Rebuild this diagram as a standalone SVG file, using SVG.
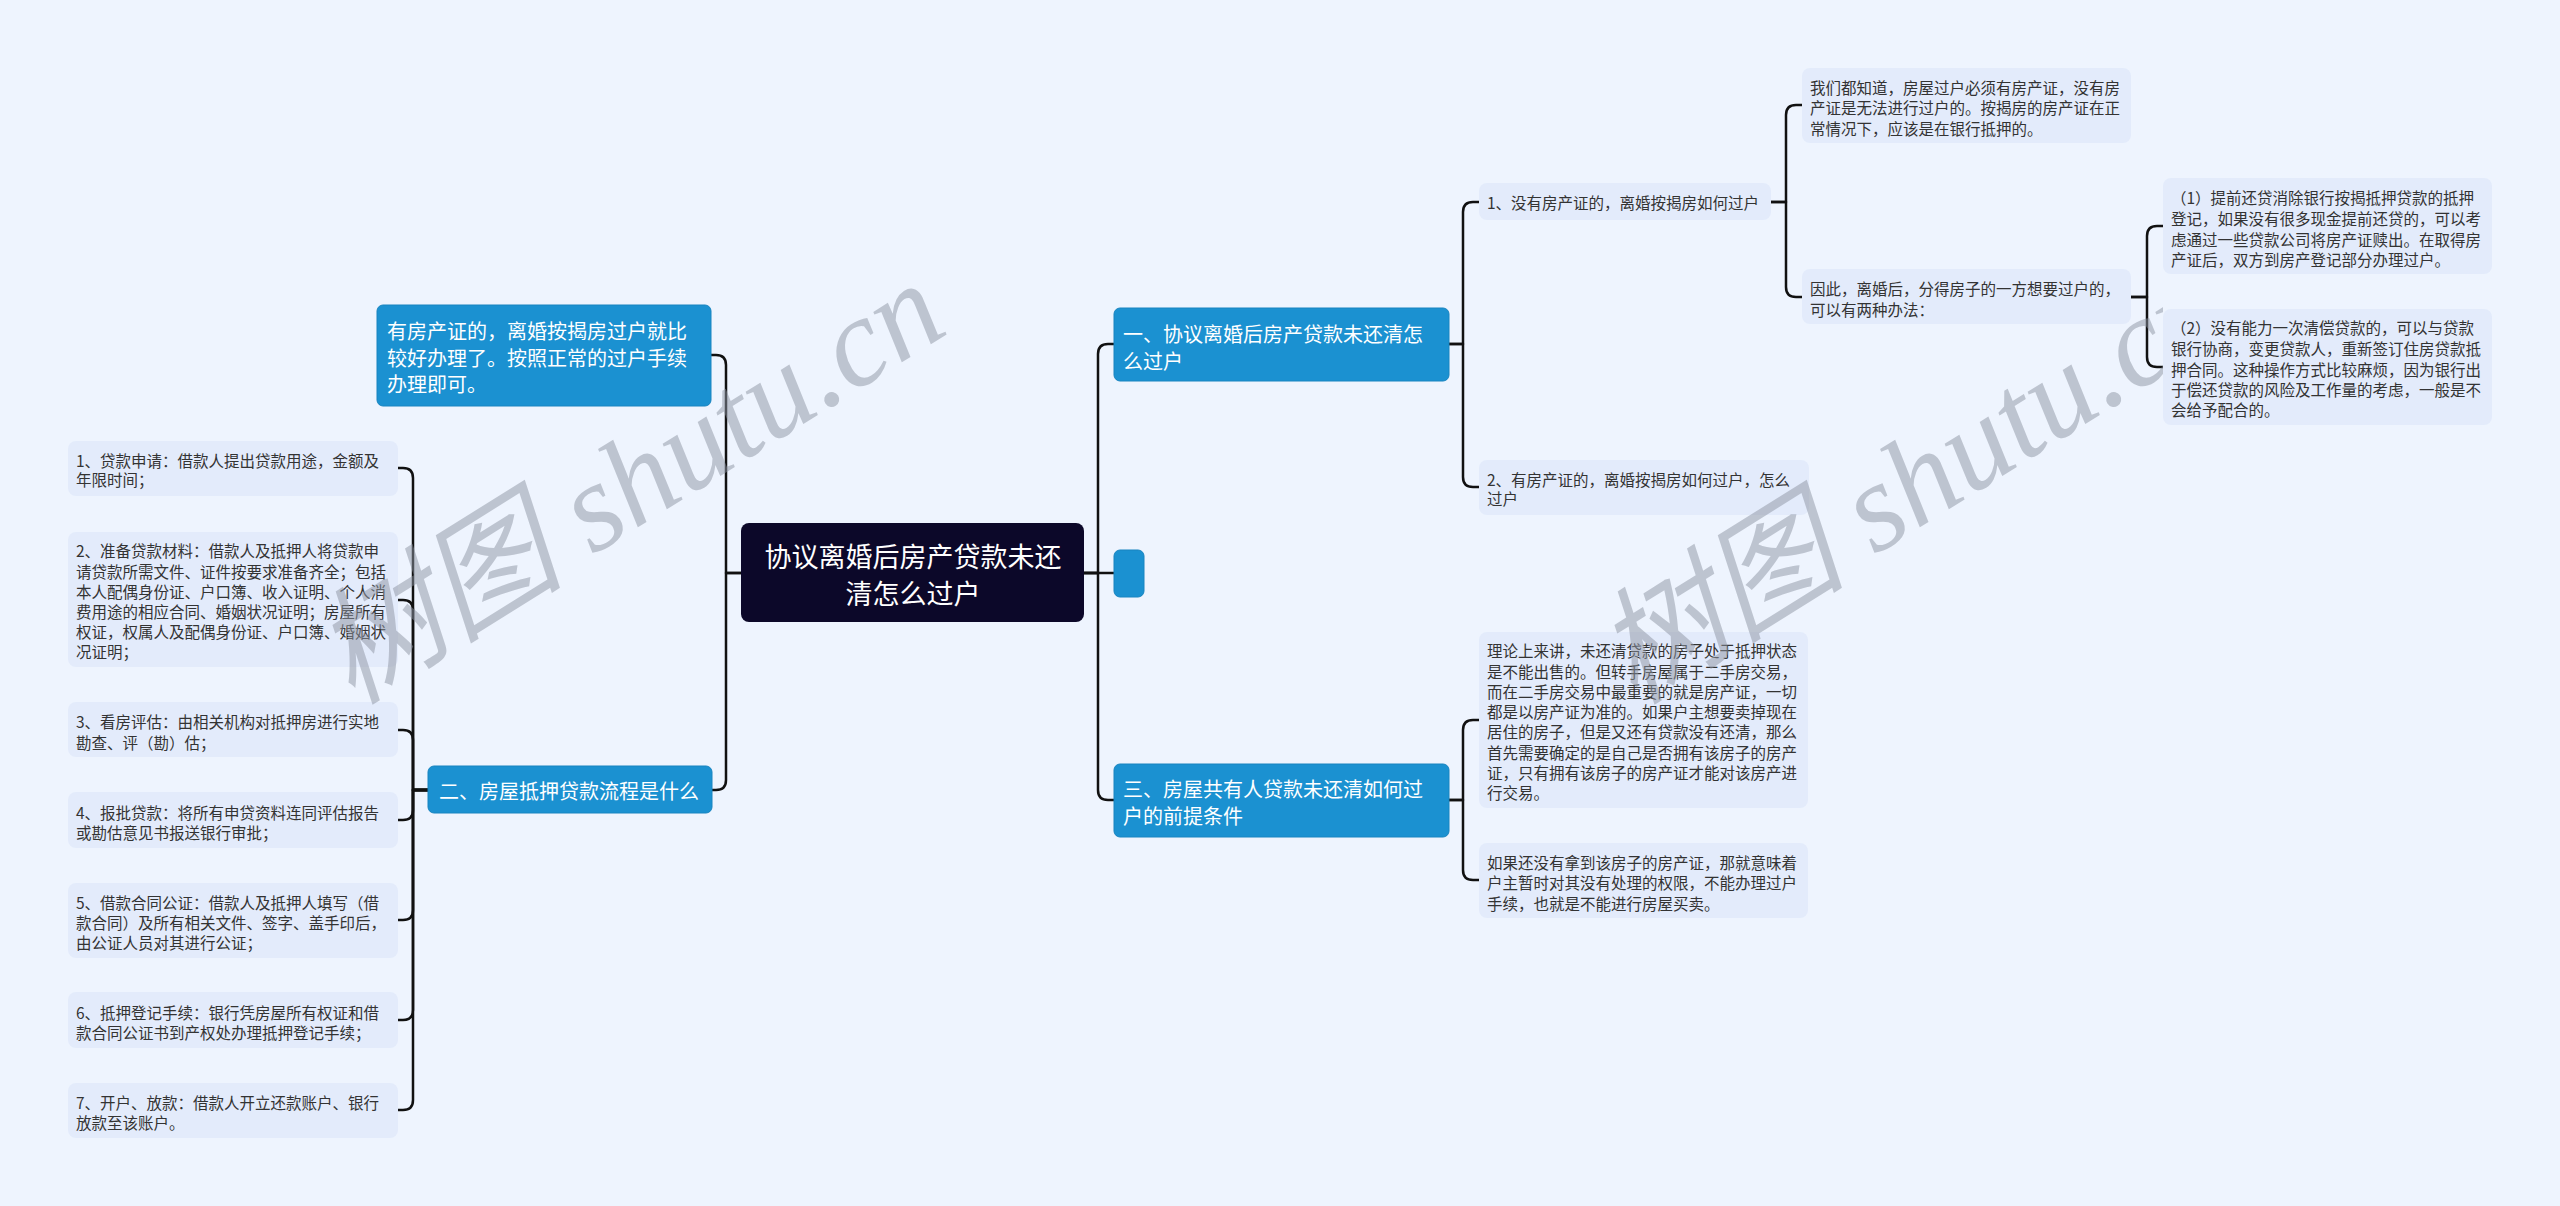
<svg xmlns="http://www.w3.org/2000/svg" width="2560" height="1206" viewBox="0 0 2560 1206">
<style>
.bg{fill:#eef4fe}
.root{fill:#0c0829}
.l1{fill:#1b91d1;stroke:#1884c0;stroke-width:1}
.leaf{fill:#e3ebfb}
.t{font-family:"Noto Sans CJK SC","Liberation Sans",sans-serif;dominant-baseline:central}
.tr{font-size:27px;fill:#ffffff;text-anchor:middle}
.t1{font-size:20px;fill:#ffffff}
.t2{font-size:15.5px;fill:#333333}
.c path{fill:none;stroke:#111111;stroke-width:2.5;stroke-linecap:round;stroke-linejoin:round}
.wm{font-family:"Liberation Serif","Noto Sans CJK SC",serif;font-style:italic;font-size:126px;fill:#8e95a3;opacity:0.5}
</style>
<defs>
<clipPath id="clipR"><rect x="0" y="0" width="2163" height="1206"/></clipPath>
</defs>
<rect class="bg" x="0" y="0" width="2560" height="1206"/>

<g id="connectors" class="c">
<path d="M1084,573 H1098 V354 Q1098,344 1108,344 H1114"/>
<path d="M1084,573 H1114"/>
<path d="M1084,573 H1098 V790 Q1098,800 1108,800 H1114"/>
<path d="M741,573 H726 V365 Q726,355 716,355 H711"/>
<path d="M741,573 H726 V780 Q726,790 716,790 H712"/>
<path d="M428,790 H413 V478 Q413,468 403,468 H398"/>
<path d="M428,790 H413 V610 Q413,600 403,600 H398"/>
<path d="M428,790 H413 V740 Q413,730 403,730 H398"/>
<path d="M428,790 H413 V810 Q413,820 403,820 H398"/>
<path d="M428,790 H413 V910 Q413,920 403,920 H398"/>
<path d="M428,790 H413 V1010 Q413,1020 403,1020 H398"/>
<path d="M428,790 H413 V1100 Q413,1110 403,1110 H398"/>
<path d="M1449,344 H1463 V212 Q1463,202 1473,202 H1479"/>
<path d="M1449,344 H1463 V477 Q1463,487 1473,487 H1479"/>
<path d="M1771,202 H1786 V115 Q1786,105 1796,105 H1802"/>
<path d="M1771,202 H1786 V287 Q1786,297 1796,297 H1802"/>
<path d="M2131,297 H2147 V236 Q2147,226 2157,226 H2163"/>
<path d="M2131,297 H2147 V357 Q2147,367 2157,367 H2163"/>
<path d="M1449,800 H1463 V730 Q1463,720 1473,720 H1479"/>
<path d="M1449,800 H1463 V870 Q1463,880 1473,880 H1479"/>
</g>

<g id="root">
<rect class="root" x="741" y="523" width="343" height="99" rx="8"/>
<text class="t tr" x="913" y="555">协议离婚后房产贷款未还</text>
<text class="t tr" x="913" y="592">清怎么过户</text>
</g>

<g id="n-empty">
<rect class="l1" x="1114" y="550" width="30" height="47" rx="6"/>
</g>

<g id="n-1">
<rect class="l1" x="1114" y="308" width="335" height="73" rx="6"/>
<text class="t t1" x="1123" y="333">一、协议离婚后房产贷款未还清怎</text>
<text class="t t1" x="1123" y="360">么过户</text>
</g>

<g id="n-3">
<rect class="l1" x="1114" y="764" width="335" height="73" rx="6"/>
<text class="t t1" x="1123" y="788">三、房屋共有人贷款未还清如何过</text>
<text class="t t1" x="1123" y="815">户的前提条件</text>
</g>

<g id="n-left-a">
<rect class="l1" x="377" y="305" width="334" height="101" rx="6"/>
<text class="t t1" x="387" y="330">有房产证的，离婚按揭房过户就比</text>
<text class="t t1" x="387" y="357">较好办理了。按照正常的过户手续</text>
<text class="t t1" x="387" y="383">办理即可。</text>
</g>

<g id="n-2">
<rect class="l1" x="428" y="766" width="284" height="47" rx="6"/>
<text class="t t1" x="439" y="790">二、房屋抵押贷款流程是什么</text>
</g>

<g id="n-1-1">
<rect class="leaf" x="1479" y="183" width="292" height="37" rx="8"/>
<text class="t t2" x="1487" y="202">1、没有房产证的，离婚按揭房如何过户</text>
</g>

<g id="n-1-1-a">
<rect class="leaf" x="1802" y="68" width="329" height="75" rx="8"/>
<text class="t t2" x="1810" y="87">我们都知道，房屋过户必须有房产证，没有房</text>
<text class="t t2" x="1810" y="107">产证是无法进行过户的。按揭房的房产证在正</text>
<text class="t t2" x="1810" y="128">常情况下，应该是在银行抵押的。</text>
</g>

<g id="n-1-1-b">
<rect class="leaf" x="1802" y="269" width="329" height="55" rx="8"/>
<text class="t t2" x="1810" y="288">因此，离婚后，分得房子的一方想要过户的，</text>
<text class="t t2" x="1810" y="309">可以有两种办法：</text>
</g>

<g id="n-opt1">
<rect class="leaf" x="2163" y="178" width="329" height="96" rx="8"/>
<text class="t t2" x="2171" y="197">（1）提前还贷消除银行按揭抵押贷款的抵押</text>
<text class="t t2" x="2171" y="218">登记，如果没有很多现金提前还贷的，可以考</text>
<text class="t t2" x="2171" y="239">虑通过一些贷款公司将房产证赎出。在取得房</text>
<text class="t t2" x="2171" y="259">产证后，双方到房产登记部分办理过户。</text>
</g>

<g id="n-opt2">
<rect class="leaf" x="2163" y="309" width="329" height="116" rx="8"/>
<text class="t t2" x="2171" y="327">（2）没有能力一次清偿贷款的，可以与贷款</text>
<text class="t t2" x="2171" y="348">银行协商，变更贷款人，重新签订住房贷款抵</text>
<text class="t t2" x="2171" y="369">押合同。这种操作方式比较麻烦，因为银行出</text>
<text class="t t2" x="2171" y="389">于偿还贷款的风险及工作量的考虑，一般是不</text>
<text class="t t2" x="2171" y="409">会给予配合的。</text>
</g>

<g id="n-1-2">
<rect class="leaf" x="1479" y="460" width="330" height="55" rx="8"/>
<text class="t t2" x="1487" y="479">2、有房产证的，离婚按揭房如何过户，怎么</text>
<text class="t t2" x="1487" y="498">过户</text>
</g>

<g id="n-3-1">
<rect class="leaf" x="1479" y="632" width="329" height="176" rx="8"/>
<text class="t t2" x="1487" y="650">理论上来讲，未还清贷款的房子处于抵押状态</text>
<text class="t t2" x="1487" y="671">是不能出售的。但转手房屋属于二手房交易，</text>
<text class="t t2" x="1487" y="691">而在二手房交易中最重要的就是房产证，一切</text>
<text class="t t2" x="1487" y="711">都是以房产证为准的。如果户主想要卖掉现在</text>
<text class="t t2" x="1487" y="731">居住的房子，但是又还有贷款没有还清，那么</text>
<text class="t t2" x="1487" y="752">首先需要确定的是自己是否拥有该房子的房产</text>
<text class="t t2" x="1487" y="772">证，只有拥有该房子的房产证才能对该房产进</text>
<text class="t t2" x="1487" y="792">行交易。</text>
</g>

<g id="n-3-2">
<rect class="leaf" x="1479" y="843" width="329" height="75" rx="8"/>
<text class="t t2" x="1487" y="862">如果还没有拿到该房子的房产证，那就意味着</text>
<text class="t t2" x="1487" y="882">户主暂时对其没有处理的权限，不能办理过户</text>
<text class="t t2" x="1487" y="903">手续，也就是不能进行房屋买卖。</text>
</g>

<g id="n-2-1">
<rect class="leaf" x="68" y="441" width="330" height="55" rx="8"/>
<text class="t t2" x="76" y="460">1、贷款申请：借款人提出贷款用途，金额及</text>
<text class="t t2" x="76" y="479">年限时间；</text>
</g>

<g id="n-2-2">
<rect class="leaf" x="68" y="532" width="330" height="135" rx="8"/>
<text class="t t2" x="76" y="550">2、准备贷款材料：借款人及抵押人将贷款申</text>
<text class="t t2" x="76" y="571">请贷款所需文件、证件按要求准备齐全；包括</text>
<text class="t t2" x="76" y="591">本人配偶身份证、户口簿、收入证明、个人消</text>
<text class="t t2" x="76" y="611">费用途的相应合同、婚姻状况证明；房屋所有</text>
<text class="t t2" x="76" y="631">权证，权属人及配偶身份证、户口簿、婚姻状</text>
<text class="t t2" x="76" y="651">况证明；</text>
</g>

<g id="n-2-3">
<rect class="leaf" x="68" y="702" width="330" height="55" rx="8"/>
<text class="t t2" x="76" y="721">3、看房评估：由相关机构对抵押房进行实地</text>
<text class="t t2" x="76" y="742">勘查、评（勘）估；</text>
</g>

<g id="n-2-4">
<rect class="leaf" x="68" y="792" width="330" height="56" rx="8"/>
<text class="t t2" x="76" y="812">4、报批贷款：将所有申贷资料连同评估报告</text>
<text class="t t2" x="76" y="832">或勘估意见书报送银行审批；</text>
</g>

<g id="n-2-5">
<rect class="leaf" x="68" y="883" width="330" height="75" rx="8"/>
<text class="t t2" x="76" y="902">5、借款合同公证：借款人及抵押人填写（借</text>
<text class="t t2" x="76" y="922">款合同）及所有相关文件、签字、盖手印后，</text>
<text class="t t2" x="76" y="942">由公证人员对其进行公证；</text>
</g>

<g id="n-2-6">
<rect class="leaf" x="68" y="992" width="330" height="56" rx="8"/>
<text class="t t2" x="76" y="1012">6、抵押登记手续：银行凭房屋所有权证和借</text>
<text class="t t2" x="76" y="1032">款合同公证书到产权处办理抵押登记手续；</text>
</g>

<g id="n-2-7">
<rect class="leaf" x="68" y="1083" width="330" height="55" rx="8"/>
<text class="t t2" x="76" y="1102">7、开户、放款：借款人开立还款账户、银行</text>
<text class="t t2" x="76" y="1122">放款至该账户。</text>
</g>

<g id="watermarks">
<text class="wm" transform="translate(352,706) rotate(-32)">树图 shutu.cn</text>
<g clip-path="url(#clipR)">
<text class="wm" transform="translate(1634,706) rotate(-32)">树图 shutu.cn</text>
</g>
</g>
</svg>
